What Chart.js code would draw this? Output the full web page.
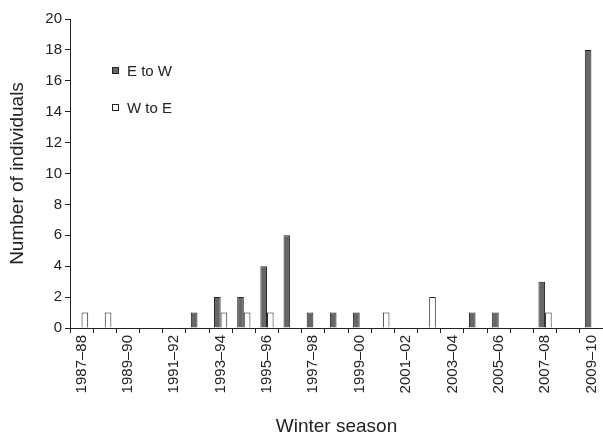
<!DOCTYPE html>
<html>
<head>
<meta charset="utf-8">
<script src="https://cdn.jsdelivr.net/npm/chart.js@4"></script>
<style>
  html, body { margin: 0; padding: 0; background: #fff; }
</style>
</head>
<body>
<canvas id="myChart" width="603" height="443"></canvas>
<script>
/* Data */
var seasons = ["1987–88", "1988–89", "1989–90", "1990–91", "1991–92", "1992–93", "1993–94", "1994–95",
  "1995–96", "1996–97", "1997–98", "1998–99", "1999–00", "2000–01", "2001–02", "2002–03",
  "2003–04", "2004–05", "2005–06", "2006–07", "2007–08", "2008–09", "2009–10"];
var eastToWest = [0, 0, 0, 0, 0, 1, 2, 2, 4, 6, 1, 1, 1, 0, 0, 0, 0, 1, 1, 0, 3, 0, 18];
var westToEast = [1, 1, 0, 0, 0, 0, 1, 1, 1, 0, 0, 0, 0, 1, 0, 2, 0, 0, 0, 0, 1, 0, 0];
var seriesNames = ["E to W", "W to E"];
var barColors = ["#666666", "#ffffff"];

var FONT = "'Liberation Sans', Arial, sans-serif";

/* legend drawn inside the plot, top left */
var insideLegend = {
  id: 'insideLegend',
  afterDraw: function (chart) {
    var ctx = chart.ctx;
    ctx.save();
    ctx.font = "15px " + FONT;
    ctx.textBaseline = "middle";
    chart.data.datasets.forEach(function (ds, i) {
      var y = 71 + i * 37;
      ctx.fillStyle = ds.backgroundColor;
      ctx.fillRect(112, y - 4, 7, 7);
      ctx.strokeStyle = "#222";
      ctx.lineWidth = 1;
      ctx.strokeRect(112.5, y - 3.5, 6, 6);
      ctx.fillStyle = "#222";
      ctx.fillText(ds.label, 127, y + 1);
    });
    ctx.restore();
  }
};

new Chart("myChart", {
  type: "bar",
  data: {
    labels: seasons,
    datasets: [{
      label: seriesNames[0],
      data: eastToWest,
      backgroundColor: barColors[0],
      borderColor: "#222",
      borderWidth: 1,
      barPercentage: 1,
      categoryPercentage: 0.57
    }, {
      label: seriesNames[1],
      data: westToEast,
      backgroundColor: barColors[1],
      borderColor: "#222",
      borderWidth: 1,
      barPercentage: 1,
      categoryPercentage: 0.57
    }]
  },
  options: {
    responsive: false,
    animation: false,
    devicePixelRatio: 1,
    layout: { padding: { top: 19, right: 0, left: 0, bottom: 0 } },
    plugins: {
      legend: { display: false },
      tooltip: { enabled: false }
    },
    scales: {
      x: {
        afterFit: function (s) { s.height = 115; s.paddingRight = 0; s.paddingLeft = 0; },
        border: { color: "#222", width: 1 },
        grid: { drawOnChartArea: false, color: "#222", tickLength: 5, offset: true },
        ticks: {
          autoSkip: false,
          minRotation: 90,
          maxRotation: 90,
          color: "#222",
          font: { family: FONT, size: 15 },
          padding: 2,
          callback: function (v, i) { return i % 2 === 0 ? seasons[i] : ""; }
        },
        title: {
          display: true,
          text: "Winter season",
          color: "#222",
          font: { family: FONT, size: 19 },
          padding: { top: 0, bottom: 5 }
        }
      },
      y: {
        min: 0,
        max: 20,
        afterFit: function (s) { s.width = 70; },
        border: { color: "#222", width: 1 },
        grid: { drawOnChartArea: false, color: "#222", tickLength: 5 },
        ticks: {
          stepSize: 2,
          color: "#222",
          font: { family: FONT, size: 15 },
          padding: 3
        },
        title: {
          display: true,
          text: "Number of individuals",
          color: "#222",
          font: { family: FONT, size: 19 },
          padding: { top: 6, bottom: 4 }
        }
      }
    }
  },
  plugins: [insideLegend]
});
</script>
</body>
</html>
